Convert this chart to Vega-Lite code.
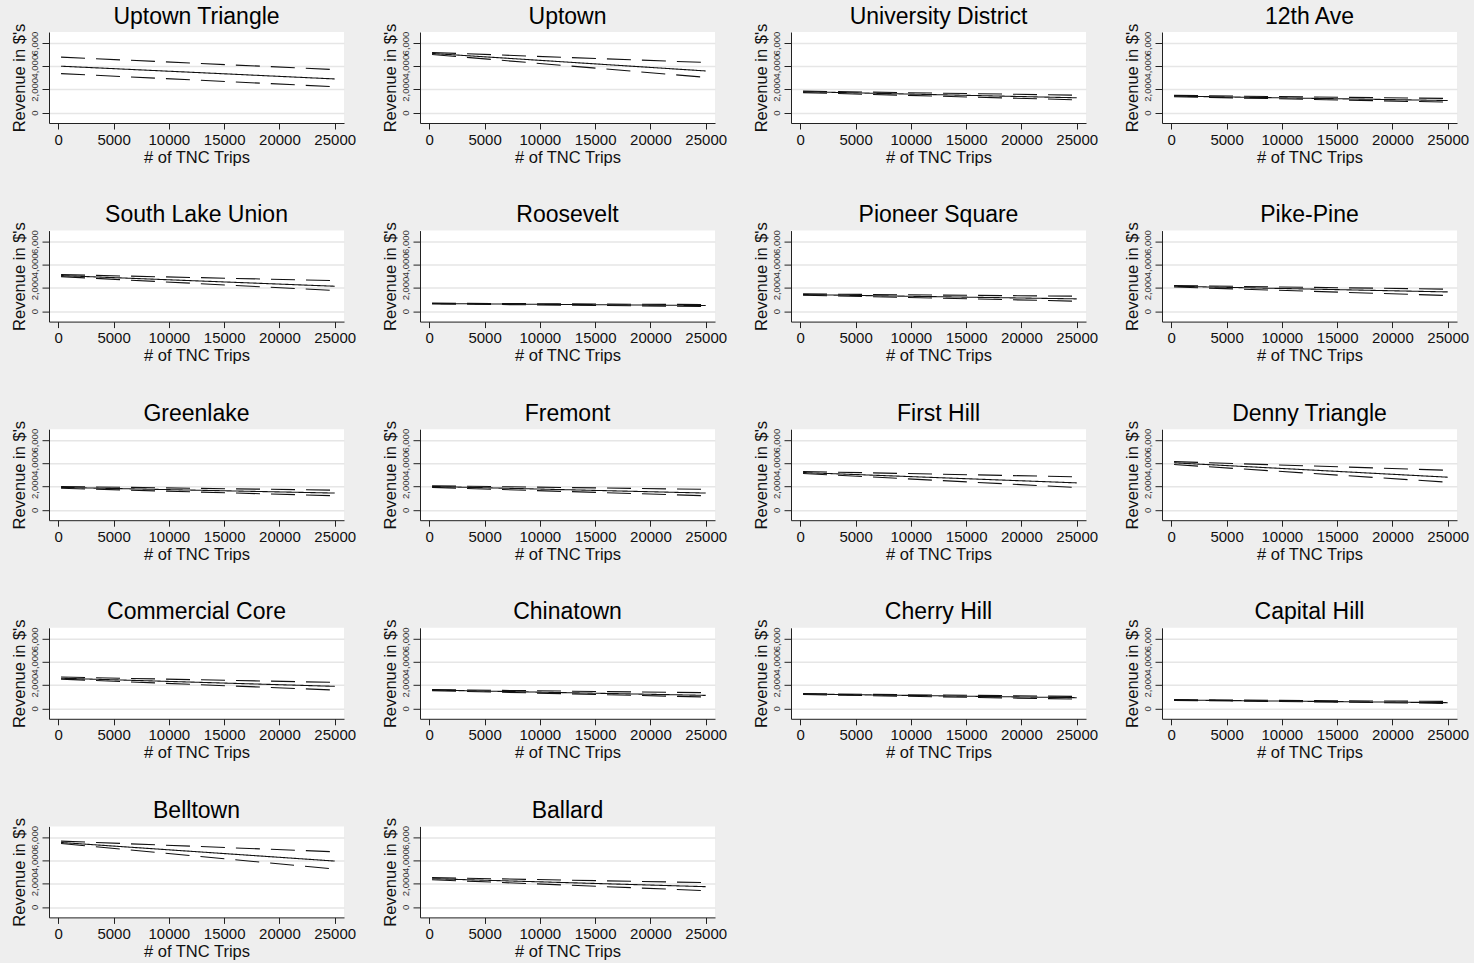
{
  "$schema": "https://vega.github.io/schema/vega-lite/v6.json",
  "background": "#eeeeee",
  "padding": {"left": 11, "top": 5, "right": 5, "bottom": 5},
  "config": {
    "font": "Liberation Sans",
    "view": {"fill": "white", "stroke": null},
    "axis": {
      "domainColor": "#222222",
      "domainWidth": 1,
      "tickColor": "#222222",
      "tickWidth": 1,
      "tickSize": 6,
      "labelColor": "#111111",
      "titleColor": "#111111",
      "titleFontWeight": "normal",
      "titleFontSize": 16.5,
      "labelFontSize": 15,
      "gridColor": "#e6e6e6",
      "gridWidth": 1.5
    },
    "header": {
      "labelFontSize": 23,
      "labelColor": "#000000",
      "labelFont": "Liberation Sans",
      "labelPadding": -23.5,
      "labelBaseline": "alphabetic"
    }
  },
  "data": {
    "values": [
      {"hood": "Uptown Triangle", "series": "fit", "trips": 250, "rev": 4000},
      {"hood": "Uptown Triangle", "series": "fit", "trips": 25000, "rev": 2900},
      {"hood": "Uptown Triangle", "series": "hi", "trips": 250, "rev": 4780},
      {"hood": "Uptown Triangle", "series": "hi", "trips": 25000, "rev": 3710},
      {"hood": "Uptown Triangle", "series": "lo", "trips": 250, "rev": 3360},
      {"hood": "Uptown Triangle", "series": "lo", "trips": 25000, "rev": 2230},
      {"hood": "Uptown", "series": "fit", "trips": 250, "rev": 5100},
      {"hood": "Uptown", "series": "fit", "trips": 25000, "rev": 3590},
      {"hood": "Uptown", "series": "hi", "trips": 250, "rev": 5180},
      {"hood": "Uptown", "series": "hi", "trips": 25000, "rev": 4320},
      {"hood": "Uptown", "series": "lo", "trips": 250, "rev": 5010},
      {"hood": "Uptown", "series": "lo", "trips": 25000, "rev": 3040},
      {"hood": "University District", "series": "fit", "trips": 250, "rev": 1800},
      {"hood": "University District", "series": "fit", "trips": 25000, "rev": 1275},
      {"hood": "University District", "series": "hi", "trips": 250, "rev": 1850},
      {"hood": "University District", "series": "hi", "trips": 25000, "rev": 1500},
      {"hood": "University District", "series": "lo", "trips": 250, "rev": 1720},
      {"hood": "University District", "series": "lo", "trips": 25000, "rev": 1100},
      {"hood": "12th Ave", "series": "fit", "trips": 250, "rev": 1420},
      {"hood": "12th Ave", "series": "fit", "trips": 25000, "rev": 1040},
      {"hood": "12th Ave", "series": "hi", "trips": 250, "rev": 1480},
      {"hood": "12th Ave", "series": "hi", "trips": 25000, "rev": 1220},
      {"hood": "12th Ave", "series": "lo", "trips": 250, "rev": 1370},
      {"hood": "12th Ave", "series": "lo", "trips": 25000, "rev": 900},
      {"hood": "South Lake Union", "series": "fit", "trips": 250, "rev": 3070},
      {"hood": "South Lake Union", "series": "fit", "trips": 25000, "rev": 2150},
      {"hood": "South Lake Union", "series": "hi", "trips": 250, "rev": 3150},
      {"hood": "South Lake Union", "series": "hi", "trips": 25000, "rev": 2640},
      {"hood": "South Lake Union", "series": "lo", "trips": 250, "rev": 2980},
      {"hood": "South Lake Union", "series": "lo", "trips": 25000, "rev": 1780},
      {"hood": "Roosevelt", "series": "fit", "trips": 250, "rev": 660},
      {"hood": "Roosevelt", "series": "fit", "trips": 25000, "rev": 490},
      {"hood": "Roosevelt", "series": "hi", "trips": 250, "rev": 690},
      {"hood": "Roosevelt", "series": "hi", "trips": 25000, "rev": 570},
      {"hood": "Roosevelt", "series": "lo", "trips": 250, "rev": 630},
      {"hood": "Roosevelt", "series": "lo", "trips": 25000, "rev": 400},
      {"hood": "Pioneer Square", "series": "fit", "trips": 250, "rev": 1430},
      {"hood": "Pioneer Square", "series": "fit", "trips": 25000, "rev": 1060},
      {"hood": "Pioneer Square", "series": "hi", "trips": 250, "rev": 1490},
      {"hood": "Pioneer Square", "series": "hi", "trips": 25000, "rev": 1290},
      {"hood": "Pioneer Square", "series": "lo", "trips": 250, "rev": 1380},
      {"hood": "Pioneer Square", "series": "lo", "trips": 25000, "rev": 860},
      {"hood": "Pike-Pine", "series": "fit", "trips": 250, "rev": 2150},
      {"hood": "Pike-Pine", "series": "fit", "trips": 25000, "rev": 1660},
      {"hood": "Pike-Pine", "series": "hi", "trips": 250, "rev": 2210},
      {"hood": "Pike-Pine", "series": "hi", "trips": 25000, "rev": 1900},
      {"hood": "Pike-Pine", "series": "lo", "trips": 250, "rev": 2080},
      {"hood": "Pike-Pine", "series": "lo", "trips": 25000, "rev": 1350},
      {"hood": "Greenlake", "series": "fit", "trips": 250, "rev": 1930},
      {"hood": "Greenlake", "series": "fit", "trips": 25000, "rev": 1440},
      {"hood": "Greenlake", "series": "hi", "trips": 250, "rev": 2010},
      {"hood": "Greenlake", "series": "hi", "trips": 25000, "rev": 1690},
      {"hood": "Greenlake", "series": "lo", "trips": 250, "rev": 1850},
      {"hood": "Greenlake", "series": "lo", "trips": 25000, "rev": 1210},
      {"hood": "Fremont", "series": "fit", "trips": 250, "rev": 2010},
      {"hood": "Fremont", "series": "fit", "trips": 25000, "rev": 1440},
      {"hood": "Fremont", "series": "hi", "trips": 250, "rev": 2070},
      {"hood": "Fremont", "series": "hi", "trips": 25000, "rev": 1760},
      {"hood": "Fremont", "series": "lo", "trips": 250, "rev": 1930},
      {"hood": "Fremont", "series": "lo", "trips": 25000, "rev": 1210},
      {"hood": "First Hill", "series": "fit", "trips": 250, "rev": 3210},
      {"hood": "First Hill", "series": "fit", "trips": 25000, "rev": 2320},
      {"hood": "First Hill", "series": "hi", "trips": 250, "rev": 3300},
      {"hood": "First Hill", "series": "hi", "trips": 25000, "rev": 2840},
      {"hood": "First Hill", "series": "lo", "trips": 250, "rev": 3130},
      {"hood": "First Hill", "series": "lo", "trips": 25000, "rev": 1920},
      {"hood": "Denny Triangle", "series": "fit", "trips": 250, "rev": 4050},
      {"hood": "Denny Triangle", "series": "fit", "trips": 25000, "rev": 2810},
      {"hood": "Denny Triangle", "series": "hi", "trips": 250, "rev": 4150},
      {"hood": "Denny Triangle", "series": "hi", "trips": 25000, "rev": 3410},
      {"hood": "Denny Triangle", "series": "lo", "trips": 250, "rev": 3900},
      {"hood": "Denny Triangle", "series": "lo", "trips": 25000, "rev": 2380},
      {"hood": "Commercial Core", "series": "fit", "trips": 250, "rev": 2600},
      {"hood": "Commercial Core", "series": "fit", "trips": 25000, "rev": 1900},
      {"hood": "Commercial Core", "series": "hi", "trips": 250, "rev": 2700},
      {"hood": "Commercial Core", "series": "hi", "trips": 25000, "rev": 2240},
      {"hood": "Commercial Core", "series": "lo", "trips": 250, "rev": 2520},
      {"hood": "Commercial Core", "series": "lo", "trips": 25000, "rev": 1580},
      {"hood": "Chinatown", "series": "fit", "trips": 250, "rev": 1580},
      {"hood": "Chinatown", "series": "fit", "trips": 25000, "rev": 1120},
      {"hood": "Chinatown", "series": "hi", "trips": 250, "rev": 1620},
      {"hood": "Chinatown", "series": "hi", "trips": 25000, "rev": 1350},
      {"hood": "Chinatown", "series": "lo", "trips": 250, "rev": 1530},
      {"hood": "Chinatown", "series": "lo", "trips": 25000, "rev": 980},
      {"hood": "Cherry Hill", "series": "fit", "trips": 250, "rev": 1240},
      {"hood": "Cherry Hill", "series": "fit", "trips": 25000, "rev": 920},
      {"hood": "Cherry Hill", "series": "hi", "trips": 250, "rev": 1270},
      {"hood": "Cherry Hill", "series": "hi", "trips": 25000, "rev": 1030},
      {"hood": "Cherry Hill", "series": "lo", "trips": 250, "rev": 1190},
      {"hood": "Cherry Hill", "series": "lo", "trips": 25000, "rev": 800},
      {"hood": "Capital Hill", "series": "fit", "trips": 250, "rev": 720},
      {"hood": "Capital Hill", "series": "fit", "trips": 25000, "rev": 490},
      {"hood": "Capital Hill", "series": "hi", "trips": 250, "rev": 750},
      {"hood": "Capital Hill", "series": "hi", "trips": 25000, "rev": 600},
      {"hood": "Capital Hill", "series": "lo", "trips": 250, "rev": 690},
      {"hood": "Capital Hill", "series": "lo", "trips": 25000, "rev": 430},
      {"hood": "Belltown", "series": "fit", "trips": 250, "rev": 5560},
      {"hood": "Belltown", "series": "fit", "trips": 25000, "rev": 3960},
      {"hood": "Belltown", "series": "hi", "trips": 250, "rev": 5680},
      {"hood": "Belltown", "series": "hi", "trips": 25000, "rev": 4760},
      {"hood": "Belltown", "series": "lo", "trips": 250, "rev": 5470},
      {"hood": "Belltown", "series": "lo", "trips": 25000, "rev": 3270},
      {"hood": "Ballard", "series": "fit", "trips": 250, "rev": 2440},
      {"hood": "Ballard", "series": "fit", "trips": 25000, "rev": 1750},
      {"hood": "Ballard", "series": "hi", "trips": 250, "rev": 2530},
      {"hood": "Ballard", "series": "hi", "trips": 25000, "rev": 2100},
      {"hood": "Ballard", "series": "lo", "trips": 250, "rev": 2350},
      {"hood": "Ballard", "series": "lo", "trips": 25000, "rev": 1410}
    ]
  },
  "facet": {
    "field": "hood",
    "type": "nominal",
    "title": null,
    "sort": ["Uptown Triangle", "Uptown", "University District", "12th Ave", "South Lake Union", "Roosevelt", "Pioneer Square", "Pike-Pine", "Greenlake", "Fremont", "First Hill", "Denny Triangle", "Commercial Core", "Chinatown", "Cherry Hill", "Capital Hill", "Belltown", "Ballard"]
  },
  "columns": 4,
  "bounds": "flush",
  "spacing": {"row": 107.6, "column": 76},
  "resolve": {"axis": {"x": "independent", "y": "independent"}},
  "spec": {
    "width": 295,
    "height": 91,
    "mark": {"type": "line", "color": "#111111", "strokeWidth": 1.1},
    "encoding": {
      "x": {
        "field": "trips",
        "type": "quantitative",
        "scale": {"domain": [-840, 25840], "nice": false, "zero": false},
        "axis": {
          "values": [0, 5000, 10000, 15000, 20000, 25000],
          "format": "d",
          "title": "# of TNC Trips",
          "grid": false,
          "labelFlush": false,
          "labelPadding": 3,
          "titlePadding": 2
        }
      },
      "y": {
        "field": "rev",
        "type": "quantitative",
        "scale": {"domain": [-900, 6950], "nice": false, "zero": false},
        "axis": {
          "values": [0, 2000, 4000, 6000],
          "format": ",d",
          "title": "Revenue in $'s",
          "grid": true,
          "labelAngle": 270,
          "labelFontSize": 9.5,
          "labelColor": "#333333",
          "tickSize": 7,
          "labelPadding": 3,
          "titlePadding": 1.5,
          "labelFlush": false,
          "labelOverlap": false
        }
      },
      "detail": {"field": "series", "type": "nominal"},
      "strokeDash": {
        "field": "series",
        "type": "nominal",
        "scale": {"domain": ["fit", "hi", "lo"], "range": [[1, 0], [24, 11], [24, 11]]},
        "legend": null
      }
    }
  }
}
